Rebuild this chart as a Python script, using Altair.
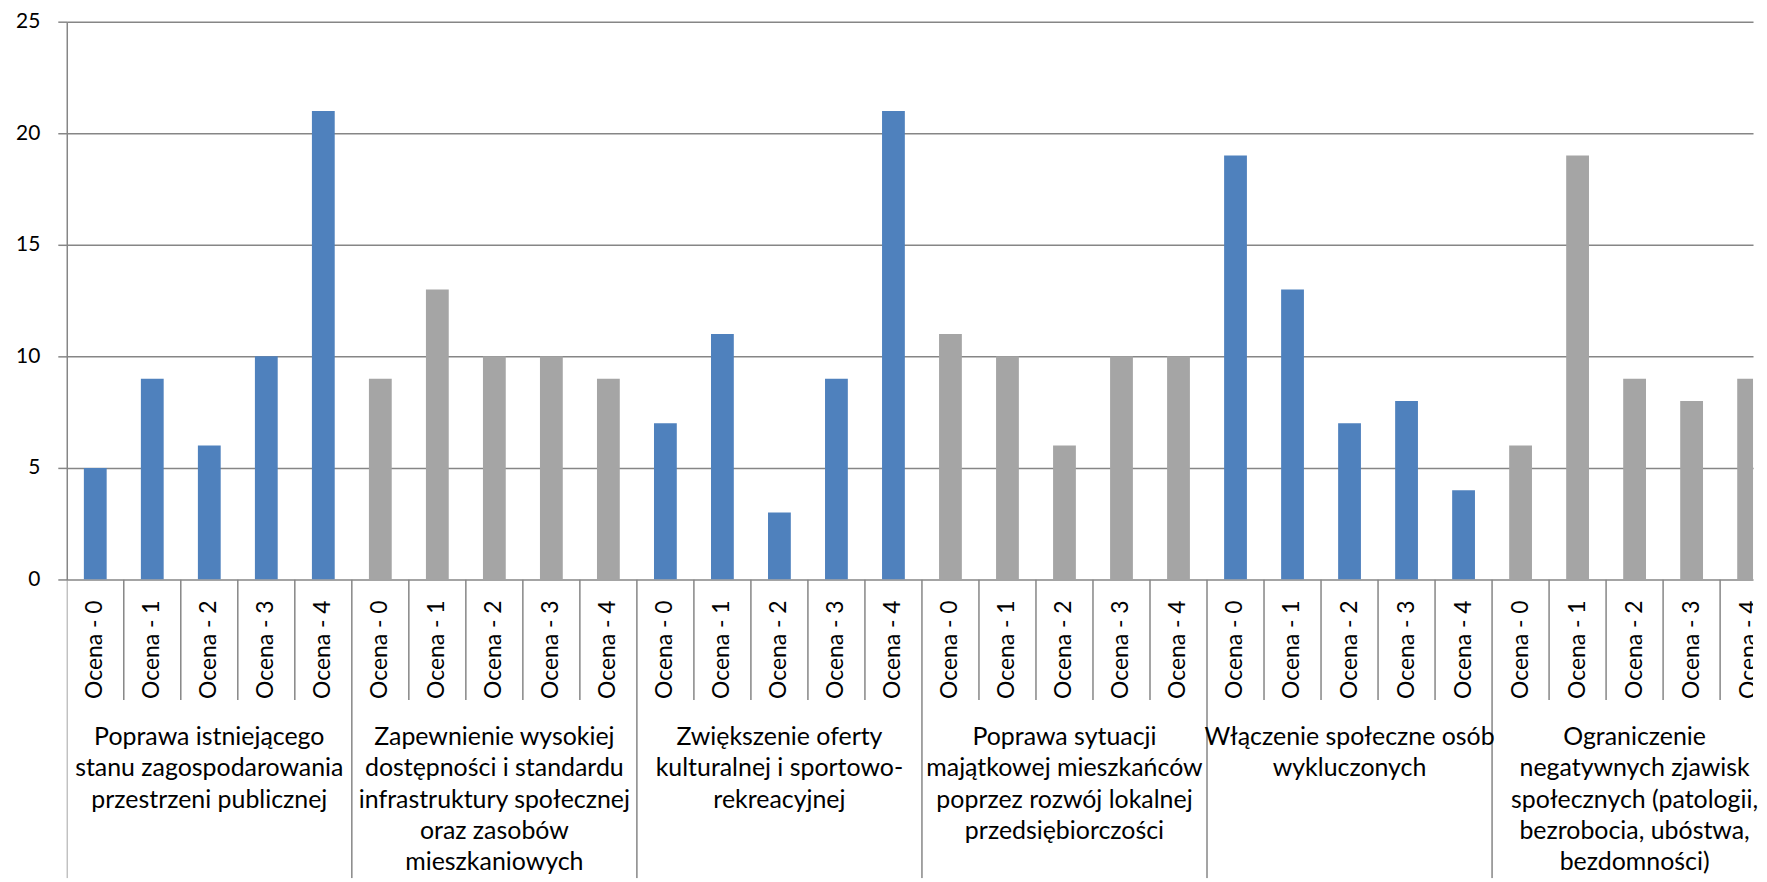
import altair as alt
import pandas as pd

# ---- data ----
groups = [
    "Poprawa istniejącego\nstanu zagospodarowania\nprzestrzeni publicznej",
    "Zapewnienie wysokiej\ndostępności i standardu\ninfrastruktury społecznej\noraz zasobów\nmieszkaniowych",
    "Zwiększenie oferty\nkulturalnej i sportowo-\nrekreacyjnej",
    "Poprawa sytuacji\nmajątkowej mieszkańców\npoprzez rozwój lokalnej\nprzedsiębiorczości",
    "Włączenie społeczne osób\nwykluczonych",
    "Ograniczenie\nnegatywnych zjawisk\nspołecznych (patologii,\nbezrobocia, ubóstwa,\nbezdomności)",
]
ratings = ["Ocena - 0", "Ocena - 1", "Ocena - 2", "Ocena - 3", "Ocena - 4"]
values_g1 = [5, 9, 6, 10, 21]
values_g2 = [9, 13, 10, 10, 9]
values_g3 = [7, 11, 3, 9, 21]
values_g4 = [11, 10, 6, 10, 10]
values_g5 = [19, 13, 7, 8, 4]
values_g6 = [6, 19, 9, 8, 9]
y_ticks = [0, 5, 10, 15, 20, 25]

all_values = [values_g1, values_g2, values_g3, values_g4, values_g5, values_g6]

# ---- styling / layout ----
BLUE = "#4F81BD"
GRAY = "#A5A5A5"
LINE = "#868686"
FONT = "Lato"
CAT_PX = 57.24          # pixel width of one category in the reference
PLOT_W = 1693
TOP_H = 560
BOT_H = 300
XMAX = PLOT_W / CAT_PX  # the reference chart is cut at the right edge

n_per = len(ratings)
rows = []
for g, vals in enumerate(all_values):
    for r, v in enumerate(vals):
        rows.append({"idx": g * n_per + r, "rating": ratings[r], "value": v,
                     "series": "a" if g % 2 == 0 else "b"})
df = pd.DataFrame(rows)

gdf = pd.DataFrame({"g": list(range(len(groups))), "label": groups})
bdf = pd.DataFrame({"b": list(range(len(groups) * n_per + 1))})

xscale = alt.Scale(domain=[0, XMAX], nice=False, zero=False)

bars = (
    alt.Chart(df)
    .transform_calculate(x0="datum.idx + 0.3", x1="datum.idx + 0.7")
    .mark_bar(clip=True)
    .encode(
        x=alt.X("x0:Q", scale=xscale, axis=None),
        x2="x1:Q",
        y=alt.Y(
            "value:Q",
            scale=alt.Scale(domain=[0, 25], nice=False),
            axis=alt.Axis(
                values=y_ticks, title=None, grid=True, gridColor=LINE, gridWidth=1.5,
                domainColor=LINE, domainWidth=1.5, tickColor=LINE, tickWidth=1.5,
                tickSize=9, labelFont=FONT, labelFontSize=21, labelColor="black",
                labelPadding=18,
            ),
        ),
        y2=alt.datum(0),
        color=alt.Color("series:N", scale=alt.Scale(domain=["a", "b"], range=[BLUE, GRAY]),
                        legend=None),
    )
    .properties(width=PLOT_W, height=TOP_H)
)

bscale = alt.Scale(domain=[0, BOT_H], reverse=True, nice=False, zero=False)

seps = (
    alt.Chart(bdf)
    .transform_calculate(y1="0", y2=f"datum.b % {n_per} == 0 ? {BOT_H} : 121")
    .mark_rule(color=LINE, strokeWidth=1.5, clip=True)
    .encode(
        x=alt.X("b:Q", scale=xscale, axis=None),
        y=alt.Y("y1:Q", scale=bscale, axis=None),
        y2="y2:Q",
    )
)

cat_labels = (
    alt.Chart(df)
    .transform_calculate(xc="datum.idx + 0.5")
    .mark_text(angle=270, align="right", baseline="middle", font=FONT, fontSize=23,
               color="black", clip=True)
    .encode(
        x=alt.X("xc:Q", scale=xscale, axis=None),
        y=alt.value(21),
        text="rating:N",
    )
)

grp_labels = (
    alt.Chart(gdf)
    .transform_calculate(xc=f"datum.g * {n_per} + {n_per / 2}")
    .mark_text(align="center", baseline="alphabetic", font=FONT, fontSize=25,
               lineBreak="\n", lineHeight=31.5, color="black")
    .encode(
        x=alt.X("xc:Q", scale=xscale, axis=None),
        y=alt.value(166),
        text="label:N",
    )
)

bottom = alt.layer(seps, cat_labels, grp_labels).properties(width=PLOT_W, height=BOT_H)

chart = (
    alt.vconcat(bars, bottom, spacing=0, bounds="flush")
    .properties(
        padding={"left": 7, "top": 1, "right": 0, "bottom": 0},
        background="white",
    )
    .configure_view(strokeWidth=0)
)

chart.save("out.html", embed_options={"renderer": "svg", "actions": False})
